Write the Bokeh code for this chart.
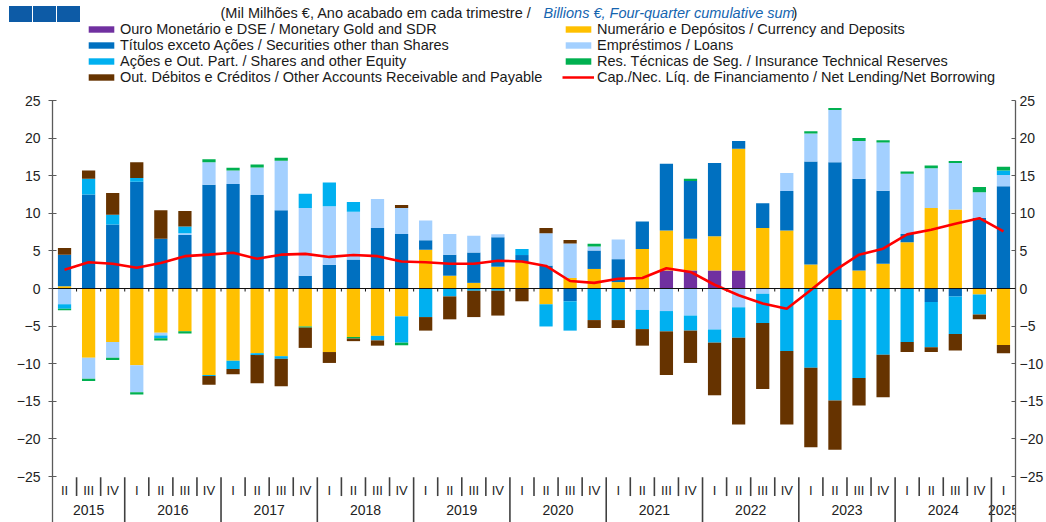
from bokeh.plotting import figure
from bokeh.models import (ColumnDataSource, Range1d, LinearAxis, FixedTicker, Span,
                          Legend, LegendItem, Label, Div)
from bokeh.layouts import column
from bokeh.core.properties import value
from bokeh.embed import file_html
from bokeh.resources import INLINE

# ---------------- data ----------------
quarters = ["II", "III", "IV",
            "I", "II", "III", "IV",
            "I", "II", "III", "IV",
            "I", "II", "III", "IV",
            "I", "II", "III", "IV",
            "I", "II", "III", "IV",
            "I", "II", "III", "IV",
            "I", "II", "III", "IV",
            "I", "II", "III", "IV",
            "I", "II", "III", "IV",
            "I"]
years = ["2015"] * 3 + ["2016"] * 4 + ["2017"] * 4 + ["2018"] * 4 + ["2019"] * 4 + \
        ["2020"] * 4 + ["2021"] * 4 + ["2022"] * 4 + ["2023"] * 4 + ["2024"] * 4 + ["2025"]

gold = [0, 0, 0, 0, 0, 0, 0, 0, 0, 0,
        0, 0, 0, 0, 0, 0, 0, 0, 0, 0,
        0, 0, 0, 0, 0, 2.4, 2.4, 2.4, 2.4, 0,
        0, 0, 0, 0, 0, 0, 0, 0, 0, 0]
currency = [0.3, -9.2, -7.1, -10.2, -5.9, -5.7, -11.5, -9.6, -8.6, -9.0,
            -5.05, -8.45, -6.45, -6.3, -3.7, 5.15, 1.7, 0.75, 2.9, 3.5,
            -2.1, 1.4, 2.6, 0.85, 5.25, 5.3, 4.2, 4.55, 16.2, 8.05,
            7.7, 3.2, -4.2, 2.4, 3.3, 6.15, 10.7, 10.5, -0.8, -7.5]
securities = [4.2, 12.5, 8.5, 14.2, 6.6, 7.1, 13.8, 13.9, 12.45, 10.4,
              1.7, 3.15, 3.85, 8.05, 7.25, 1.25, 2.8, 4.05, 3.9, 0.95,
              3.05, -1.7, 2.45, 3.05, 3.65, 8.9, 7.7, 9.75, 1.0, 3.3,
              5.25, 13.7, 16.8, 12.2, 9.7, 1.1, -1.8, -1.05, 9.4, 13.6]
loans = [-2.1, -2.8, -2.1, -3.6, -0.35, 0.25, 3.0, 1.8, 3.65, 6.6,
         9.0, 7.8, 6.35, 3.85, 3.45, 2.65, 2.75, 2.2, 0.4, 0,
         4.3, 4.6, 0.55, 2.6, -2.85, -3.0, -3.6, -5.45, -2.5, -0.7,
         2.4, 3.7, 6.95, 5.0, 6.4, 8.0, 5.3, 6.2, 3.4, 1.5]
shares = [-0.6, 2.1, 1.3, 0.5, -0.35, 0.9, -0.15, -1.1, -0.25, -0.35,
          1.9, 3.15, 1.3, -0.6, -3.5, -3.8, -1.05, -0.3, -0.3, 0.8,
          -2.95, -3.9, -4.2, -4.2, -2.55, -2.7, -2.0, -1.75, -4.05, -3.9,
          -8.3, -10.55, -10.7, -11.9, -8.8, -7.1, -6.0, -5.0, -2.65, 0.6]
insurance = [-0.2, -0.3, -0.3, -0.3, -0.3, -0.3, 0.4, 0.35, 0.4, 0.4,
             -0.15, 0, -0.2, 0, -0.35, 0, 0, 0, 0, 0,
             0, 0, 0.35, 0, 0, 0, 0.3, 0, 0, 0,
             0, 0.3, 0.25, 0.4, 0.3, 0.3, 0.35, 0.25, 0.7, 0.5]
other = [0.9, 1.1, 2.9, 2.1, 3.8, 2.05, -1.15, -0.7, -3.75, -3.65,
         -2.7, -1.45, -0.35, -0.7, 0.4, -1.8, -3.05, -3.5, -3.3, -1.7,
         0.7, 0.45, -1.05, -1.05, -2.2, -5.8, -4.3, -7.0, -11.55, -8.75,
         -9.8, -10.55, -6.55, -3.65, -5.65, -1.35, -0.65, -2.2, -0.65, -1.1]
net_lending = [2.5, 3.5, 3.3, 2.75, 3.4, 4.3, 4.5, 4.75, 3.95, 4.5,
               4.6, 4.2, 4.45, 4.3, 3.6, 3.5, 3.3, 3.3, 3.7, 3.6,
               3.0, 1.0, 0.75, 1.3, 1.4, 2.7, 2.2, 0.5, -0.9, -2.0,
               -2.7, -0.2, 2.4, 4.5, 5.3, 7.2, 7.8, 8.6, 9.35, 7.6]

series_keys = ["gold", "currency", "securities", "loans", "shares", "insurance", "other"]
series_vals = [gold, currency, securities, loans, shares, insurance, other]
series_colors = ["#7030A0", "#FFC000", "#0070C0", "#A3D0FF", "#00B0F0", "#00B050", "#663300"]
series_labels = ["Ouro Monetário e DSE / Monetary Gold and SDR",
                 "Numerário e Depósitos / Currency and Deposits",
                 "Títulos exceto Ações / Securities other than Shares",
                 "Empréstimos / Loans",
                 "Ações e Out. Part. / Shares and other Equity",
                 "Res. Técnicas de Seg. / Insurance Technical Reserves",
                 "Out. Débitos e Créditos / Other Accounts Receivable and Payable"]
line_label = "Cap./Nec. Líq. de Financiamento / Net Lending/Net Borrowing"

y_ticks = [-25, -20, -15, -10, -5, 0, 5, 10, 15, 20, 25]

# ---------------- figure ----------------
FONT = "Liberation Sans"
W, H = 1046, 522
px_per_unit = 7.52
zero_px = 288.0  # from top of figure
y_top = zero_px / px_per_unit
y_bot = -(H - zero_px) / px_per_unit

n = len(quarters)
xs = list(range(n))

p = figure(width=W, height=H, output_backend="svg", toolbar_location=None,
           x_range=Range1d(-0.5, n - 0.5), y_range=Range1d(y_bot, y_top),
           x_axis_location=None, min_border_left=52, min_border_right=4,
           min_border_top=0, min_border_bottom=0)
p.outline_line_color = None
p.grid.visible = False
p.background_fill_color = "white"

data = {"x": xs}
for k, v in zip(series_keys, series_vals):
    data["p_" + k] = [max(a, 0) for a in v]
    data["n_" + k] = [min(a, 0) for a in v]
src = ColumnDataSource(data)

pos_r = p.vbar_stack(["p_" + k for k in series_keys], x="x", width=0.55, source=src,
                     fill_color=series_colors, line_color=None)
neg_r = p.vbar_stack(["n_" + k for k in series_keys], x="x", width=0.55, source=src,
                     fill_color=series_colors, line_color=None)

# zero line and its small ticks
p.add_layout(Span(location=0, dimension="width", line_color="#111111", line_width=1.2))
bounds = [i - 0.5 for i in range(1, n)]
p.segment(x0=bounds, x1=bounds, y0=[0] * len(bounds), y1=[-0.4] * len(bounds),
          line_color="#111111", line_width=1)

line_r = p.line(xs, net_lending, line_color="#FF0000", line_width=2.6)

# axes
yaxis = p.yaxis[0]
yaxis.ticker = FixedTicker(ticks=y_ticks)
yaxis.bounds = (y_bot, 25)
yaxis.axis_line_color = "#5a5a5a"
yaxis.axis_line_width = 1.3
yaxis.major_tick_line_color = "#5a5a5a"
yaxis.major_tick_in = 4
yaxis.major_tick_out = 4
yaxis.minor_tick_line_color = None
yaxis.major_label_standoff = 8
yaxis.major_label_text_font = FONT
yaxis.major_label_text_font_size = "14px"
yaxis.major_label_text_color = "#222222"

raxis = LinearAxis(ticker=FixedTicker(ticks=y_ticks), bounds=(y_bot, 25))
raxis.axis_line_color = "#5a5a5a"
raxis.axis_line_width = 1.3
raxis.major_tick_line_color = "#5a5a5a"
raxis.major_tick_in = 4
raxis.major_tick_out = 0
raxis.minor_tick_line_color = None
raxis.major_label_standoff = 4
raxis.major_label_text_font = FONT
raxis.major_label_text_font_size = "14px"
raxis.major_label_text_color = "#222222"
p.add_layout(raxis, "right")

# category labels (quarters / years)
q_y = -26.86
p.text(x=xs, y=[q_y] * n, text=quarters, text_font=value(FONT), text_font_size="13px",
       text_align="center", text_baseline="middle", text_color="#222222")

year_names = []
year_groups = []
for i, yv in enumerate(years):
    if not year_names or year_names[-1] != yv:
        year_names.append(yv)
        year_groups.append([i])
    else:
        year_groups[-1].append(i)
year_x = [sum(c) / len(c) for c in year_groups]
p.text(x=year_x, y=[-29.5] * len(year_x), text=year_names, text_font=value(FONT),
       text_font_size="14px", text_align="center", text_baseline="middle",
       text_color="#222222")

short_b = [i - 0.5 for i in range(1, n) if quarters[i] != "I"]
long_b = [i - 0.5 for i in range(1, n) if quarters[i] == "I"]
p.segment(x0=short_b, x1=short_b, y0=[-25.1] * len(short_b), y1=[-27.6] * len(short_b),
          line_color="#404040", line_width=1.6)
p.segment(x0=long_b, x1=long_b, y0=[-25.1] * len(long_b), y1=[y_bot] * len(long_b),
          line_color="#404040", line_width=1.6)

# legends (two columns)
LEG_FS = "14.5px"
left_items = [LegendItem(label=series_labels[i], renderers=[pos_r[i]]) for i in [0, 2, 4, 6]]
right_items = [LegendItem(label=series_labels[i], renderers=[pos_r[i]]) for i in [1, 3, 5]]
right_items.append(LegendItem(label=line_label, renderers=[line_r]))
for items, lx in [(left_items, 33), (right_items, 510)]:
    lg = Legend(items=items, location=(lx, 437), orientation="vertical",
                glyph_width=32, glyph_height=8, label_height=15, spacing=0,
                padding=0, margin=0, label_standoff=3,
                label_text_font=FONT, label_text_font_size=LEG_FS,
                label_text_color="#1a1a1a", border_line_color=None,
                background_fill_alpha=0)
    p.add_layout(lg, "center")

# title
p.add_layout(Label(x=168, y=510, x_units="screen", y_units="screen",
                   text="(Mil Milhões €, Ano acabado em cada trimestre  / ",
                   text_font=FONT, text_font_size=LEG_FS, text_color="#1a1a1a",
                   text_baseline="middle"))
p.add_layout(Label(x=491, y=510, x_units="screen", y_units="screen",
                   text="Billions €, Four-quarter cumulative sum",
                   text_font=FONT, text_font_size=LEG_FS, text_color="#1565B0",
                   text_font_style="italic", text_baseline="middle"))
p.add_layout(Label(x=740, y=510, x_units="screen", y_units="screen",
                   text=")", text_font=FONT, text_font_size=LEG_FS, text_color="#1a1a1a",
                   text_baseline="middle"))

# three blue squares (decoration) as an absolutely positioned Div over the figure
sq_html = ('<div style="display:flex;gap:1px;margin:0;padding:0">' +
           ''.join('<div style="width:23px;height:16px;background:#0D5BA6"></div>'
                   for _ in range(3)) + '</div>')
deco = Div(text=sq_html, width=72, height=16, margin=0,
           styles={"position": "absolute", "left": "9px", "top": "6px", "z-index": "10"})

layout = column(p, deco, margin=0, spacing=0)

open("out.html", "w").write(file_html(layout, INLINE))
